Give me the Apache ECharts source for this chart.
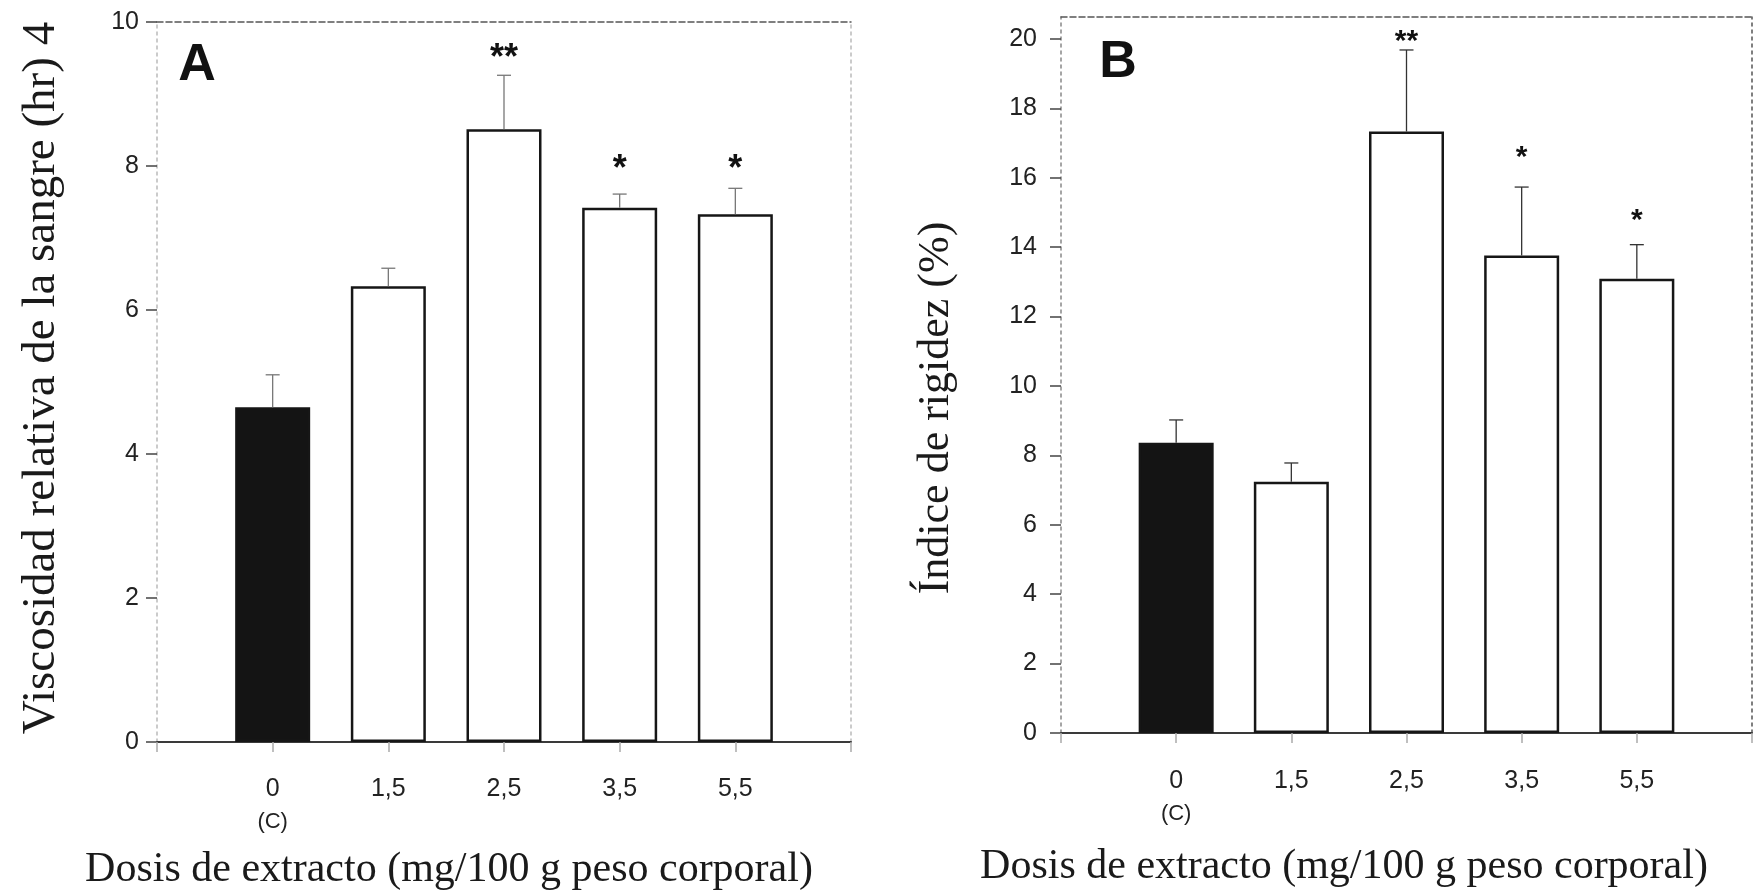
<!DOCTYPE html>
<html>
<head>
<meta charset="utf-8">
<script src="https://cdn.jsdelivr.net/npm/echarts@6/dist/echarts.min.js"></script>
<style>
  html, body { margin: 0; padding: 0; background: #fff; }
  #chart { width: 1757px; height: 893px; }
</style>
</head>
<body>
<div id="chart"></div>
<script>
// dose categories (x positions 1..5 on each panel)
const doses = ['0', '1,5', '2,5', '3,5', '5,5'];

// panel A: relative blood viscosity
const viscMean = [4.65, 6.33, 8.51, 7.42, 7.33];
const viscUpper = [5.10, 6.58, 9.26, 7.61, 7.69];
const viscStars = ['', '', '**', '*', '*'];
const viscStarPos = [null, null, 9.6, 8.06, 8.06];
const viscTicks = [0, 2, 4, 6, 8, 10];

// panel B: rigidity index
const rigidMean = [8.36, 7.24, 17.33, 13.76, 13.09];
const rigidUpper = [9.02, 7.78, 19.68, 15.73, 14.07];
const rigidStars = ['', '', '**', '*', '*'];
const rigidStarPos = [null, null, 20.1, 16.77, 14.96];
const rigidTicks = [0, 2, 4, 6, 8, 10, 12, 14, 16, 18, 20];

const SANS = 'Liberation Sans';
const SERIF = 'Liberation Serif';

const chart = echarts.init(document.getElementById('chart'));

function xLabel(v) {
  const i = v - 1;
  if (i === 0) return doses[0] + '\n{c|(C)}';
  return doses[i] !== undefined ? doses[i] : '';
}

function bottomAxis(gridIndex, margin) {
  return {
    type: 'value', gridIndex, min: 0, max: 6, interval: 1,
    axisLine: { onZero: false, lineStyle: { color: '#3a3a3a', width: 2 } },
    axisTick: { show: true, length: 10, lineStyle: { color: '#aaa', width: 1.5 } },
    splitLine: { show: false },
    axisLabel: {
      customValues: [1, 2, 3, 4, 5],
      formatter: xLabel, margin,
      fontFamily: SANS, fontSize: 25, color: '#222', lineHeight: 34,
      rich: { c: { fontFamily: SANS, fontSize: 22, color: '#222', lineHeight: 32 } }
    }
  };
}

function topAxis(gridIndex, color) {
  return {
    type: 'value', gridIndex, position: 'top', min: 0, max: 6,
    axisLine: { onZero: false, lineStyle: { color, width: 1.5, type: [6, 3] } },
    axisTick: { show: false }, axisLabel: { show: false }, splitLine: { show: false }
  };
}

function leftAxis(gridIndex, max, ticks, lineColor, margin) {
  return {
    type: 'value', gridIndex, min: 0, max,
    axisLine: { show: true, onZero: false, lineStyle: { color: lineColor, width: 1.5, type: [3, 4] } },
    axisTick: { show: true, length: 11, customValues: ticks, lineStyle: { color: '#444', width: 1.5 } },
    axisLabel: { customValues: ticks, margin, fontFamily: SANS, fontSize: 25, color: '#222' },
    splitLine: { show: false }
  };
}

function rightAxis(gridIndex, max, lineColor) {
  return {
    type: 'value', gridIndex, position: 'right', min: 0, max,
    axisLine: { show: true, onZero: false, lineStyle: { color: lineColor, width: 1.5, type: [3, 4] } },
    axisTick: { show: false }, axisLabel: { show: false }, splitLine: { show: false }
  };
}

function barSeries(xi, yi, means) {
  return {
    type: 'bar', xAxisIndex: xi, yAxisIndex: yi, barWidth: 75, z: 2,
    data: means.map((v, i) => ({
      value: [i + 1, v],
      itemStyle: {
        color: i === 0 ? '#141414' : '#fff',
        borderColor: '#161616', borderWidth: 2.5
      }
    }))
  };
}

function errorSeries(xi, yi, means, upper, stroke, lw) {
  return {
    type: 'custom', xAxisIndex: xi, yAxisIndex: yi, z: 3,
    data: means.map((v, i) => [i + 1, v, upper[i]]),
    renderItem(params, api) {
      const x = api.value(0);
      const base = api.coord([x, api.value(1)]);
      const top = api.coord([x, api.value(2)]);
      const st = { stroke, lineWidth: lw };
      return {
        type: 'group', children: [
          { type: 'line', shape: { x1: base[0], y1: base[1], x2: top[0], y2: top[1] }, style: st },
          { type: 'line', shape: { x1: top[0] - 7, y1: top[1], x2: top[0] + 7, y2: top[1] }, style: st }
        ]
      };
    }
  };
}

function starSeries(xi, yi, stars, pos, size) {
  return {
    type: 'custom', xAxisIndex: xi, yAxisIndex: yi, z: 4,
    data: pos.map((p, i) => [i + 1, p == null ? NaN : p]),
    renderItem(params, api) {
      const txt = stars[params.dataIndex];
      if (!txt) return null;
      const p = api.coord([api.value(0), api.value(1)]);
      return {
        type: 'text',
        style: {
          text: txt, x: p[0], y: p[1] + size * 0.22,
          align: 'center', verticalAlign: 'middle',
          fontFamily: SANS, fontWeight: 'bold', fontSize: size, fill: '#111'
        }
      };
    }
  };
}

const option = {
  backgroundColor: '#fff',
  animation: false,
  grid: [
    { left: 157, right: 906, top: 22, bottom: 151 },
    { left: 1061, right: 5, top: 17, bottom: 160 }
  ],
  xAxis: [
    bottomAxis(0, 30), topAxis(0, '#555'),
    bottomAxis(1, 31), topAxis(1, '#555')
  ],
  yAxis: [
    leftAxis(0, 10, viscTicks, '#bbb', 18), rightAxis(0, 10, '#bbb'),
    leftAxis(1, 20.63, rigidTicks, '#888', 24), rightAxis(1, 20.63, '#555')
  ],
  series: [
    barSeries(0, 0, viscMean),
    errorSeries(0, 0, viscMean, viscUpper, '#777', 1.3),
    starSeries(0, 0, viscStars, viscStarPos, 36),
    barSeries(2, 2, rigidMean),
    errorSeries(2, 2, rigidMean, rigidUpper, '#333', 1.3),
    starSeries(2, 2, rigidStars, rigidStarPos, 30)
  ],
  graphic: [
    { type: 'text', x: 197, y: 66, style: { text: 'A', align: 'center', verticalAlign: 'middle', fontFamily: SANS, fontWeight: 'bold', fontSize: 52, fill: '#111' } },
    { type: 'text', x: 1118, y: 63, style: { text: 'B', align: 'center', verticalAlign: 'middle', fontFamily: SANS, fontWeight: 'bold', fontSize: 52, fill: '#111' } },
    { type: 'text', x: 42, y: 378, rotation: Math.PI / 2, style: { text: 'Viscosidad relativa de la sangre (hr) 4', align: 'center', verticalAlign: 'middle', fontFamily: SERIF, fontSize: 47, fill: '#1a1a1a' } },
    { type: 'text', x: 936, y: 408, rotation: Math.PI / 2, style: { text: 'Índice de rigidez (%)', align: 'center', verticalAlign: 'middle', fontFamily: SERIF, fontSize: 44, fill: '#1a1a1a' } },
    { type: 'text', x: 449, y: 870, style: { text: 'Dosis de extracto (mg/100 g peso corporal)', align: 'center', verticalAlign: 'middle', fontFamily: SERIF, fontSize: 42, fill: '#1a1a1a' } },
    { type: 'text', x: 1344, y: 867, style: { text: 'Dosis de extracto (mg/100 g peso corporal)', align: 'center', verticalAlign: 'middle', fontFamily: SERIF, fontSize: 42, fill: '#1a1a1a' } }
  ]
};

chart.setOption(option);
</script>
</body>
</html>
